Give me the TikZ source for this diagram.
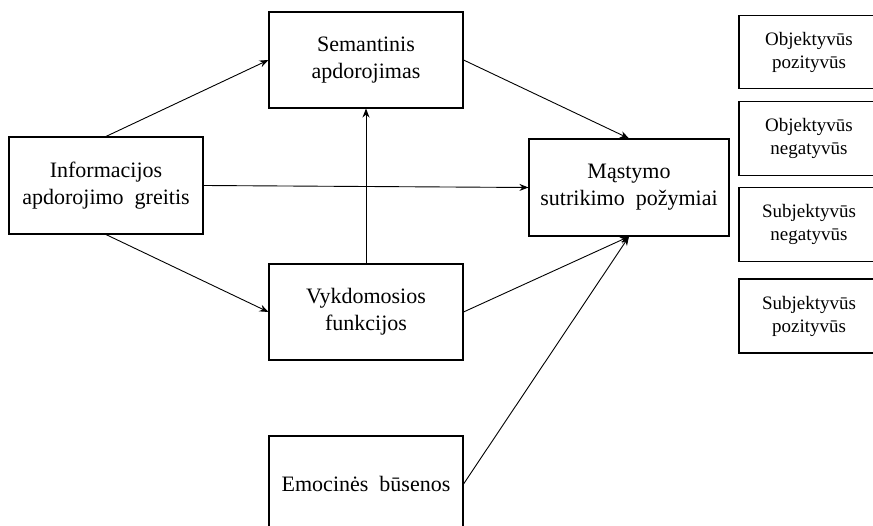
\documentclass[tikz,border=0pt]{standalone}
\usepackage{fontspec}
\setmainfont{Liberation Serif}
\usetikzlibrary{arrows.meta}
\begin{document}
\begin{tikzpicture}[x=1pt,y=-1pt,
  box/.style={draw,line width=1.1pt,minimum width=194pt,minimum height=96pt,inner sep=0pt,align=center,font=\fontsize{22}{27}\selectfont},
  sbox/.style={draw,line width=1.1pt,minimum width=140pt,minimum height=74pt,inner sep=0pt,align=center,font=\fontsize{19}{23}\selectfont},
  arr/.style={line width=0.9pt,-{Stealth[length=9pt,width=7pt]}}]
\useasboundingbox (0,0) rectangle (873,526);
\clip (0,0) rectangle (873,526);
\node[box] (sem) at (366,60) {Semantinis\\apdorojimas};
\node[box,minimum height=97pt] (info) at (106,185.5) {Informacijos\\apdorojimo\ \ greitis};
\node[box,minimum width=200pt,minimum height=97pt] (mast) at (629,187.5) {Mąstymo\\sutrikimo\ \ požymiai};
\node[box] (vyk) at (366,312) {Vykdomosios\\funkcijos};
\node[box] (emo) at (366,484) {Emocinės\ \ būsenos};
\node[sbox,minimum height=73pt] (ob1) at (809,52.4) {Objektyvūs\\pozityvūs};
\node[sbox] (ob2) at (809,138.2) {Objektyvūs\\negatyvūs};
\node[sbox] (sb1) at (809,224.4) {Subjektyvūs\\negatyvūs};
\node[sbox] (sb2) at (809,316) {Subjektyvūs\\pozityvūs};
\draw[arr] (info.north) -- (sem.west);
\draw[arr] (info.south) -- (vyk.west);
\draw[arr] (info.east) -- (mast.west);
\draw[arr] (sem.east) -- (mast.north);
\draw[arr] (vyk.north) -- (sem.south);
\draw[arr] (vyk.east) -- (mast.south);
\draw[arr] (emo.east) -- (mast.south);
\end{tikzpicture}
\end{document}
